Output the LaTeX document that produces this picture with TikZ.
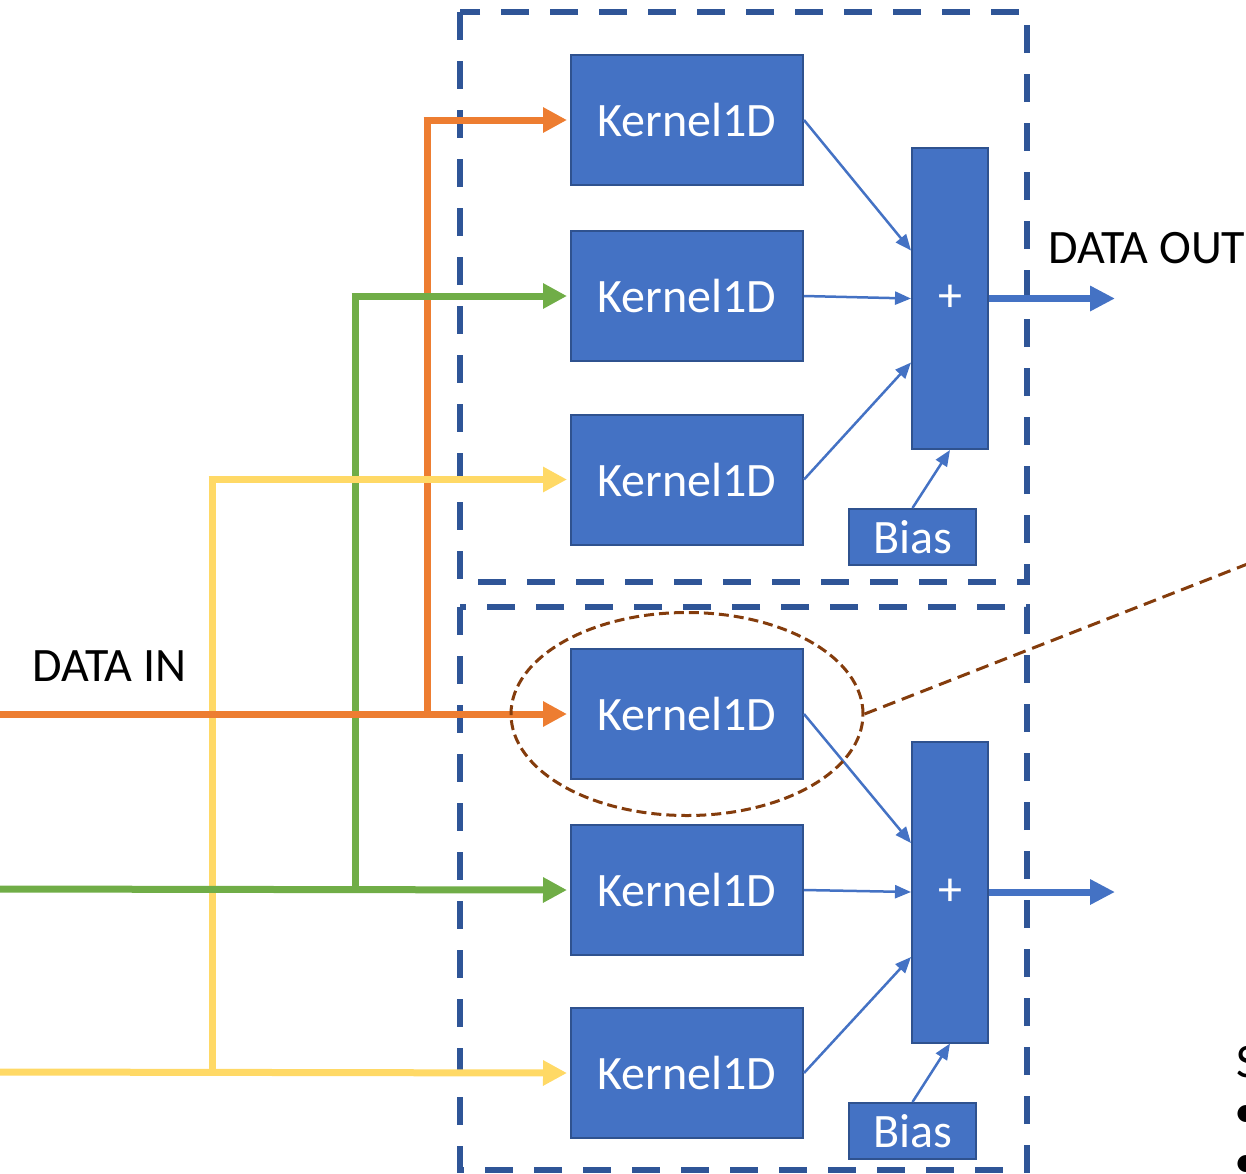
\documentclass[tikz,border=0pt]{standalone}
\usepackage{fontspec}
\setmainfont{Carlito}
\usetikzlibrary{arrows.meta,calc,shapes.geometric}
\definecolor{boxblue}{HTML}{4472C4}
\definecolor{boxedge}{HTML}{2F528F}
\definecolor{groupedge}{HTML}{2F5597}
\definecolor{lineorange}{HTML}{ED7D31}
\definecolor{linegreen}{HTML}{70AD47}
\definecolor{lineyellow}{HTML}{FFD966}
\definecolor{zoombrown}{HTML}{843C0C}
\tikzset{
  kernelbox/.style={draw=boxedge, line width=2pt, fill=boxblue, text=white,
    minimum width=232pt, minimum height=130pt, inner sep=0pt,
    font=\fontsize{48}{54}\selectfont},
  sumbox/.style={draw=boxedge, line width=2pt, fill=boxblue, text=white,
    minimum width=76pt, minimum height=301pt, inner sep=0pt,
    font=\fontsize{48}{54}\selectfont},
  biasbox/.style={draw=boxedge, line width=2pt, fill=boxblue, text=white,
    minimum width=127pt, minimum height=56pt, inner sep=0pt,
    font=\fontsize{48}{54}\selectfont},
  groupframe/.style={draw=groupedge, line width=6.5pt, dash pattern=on 28pt off 21pt},
  feed/.style={line width=7pt, line join=miter, -{Triangle[length=24pt,width=24pt]}},
  branch/.style={line width=7pt, line join=miter},
  thinarrow/.style={draw=boxblue, line width=2.5pt, -{Triangle[length=16pt,width=13pt]}},
  outarrow/.style={draw=boxblue, line width=7pt, -{Triangle[length=25pt,width=24pt]}},
  label/.style={font=\fontsize{48}{54}\selectfont, inner sep=0pt, anchor=base west},
}
\begin{document}
\begin{tikzpicture}[x=1pt, y=-1pt]
\useasboundingbox (0,0) rectangle (1246,1173);

% group frames
\draw[groupframe] (460,12) rectangle (1027,582);
\draw[groupframe] (460,607) rectangle (1027,1170);

% kernels, adders and biases
\node[kernelbox] (k1) at (687,120) {Kernel1D};
\node[kernelbox] (k2) at (687,296) {Kernel1D};
\node[kernelbox] (k3) at (687,479.5) {Kernel1D};
\node[kernelbox] (k4) at (687,714) {Kernel1D};
\node[kernelbox] (k5) at (687,890) {Kernel1D};
\node[kernelbox] (k6) at (687,1073) {Kernel1D};

\node[sumbox] (s1) at (950,298.5) {+};
\node[sumbox] (s2) at (950,892) {+};

\node[biasbox] (b1) at (912.5,537) {Bias};
\node[biasbox] (b2) at (912.5,1131) {Bias};

% input lines: free left ends and branch points
\coordinate (inO) at (0,714);
\coordinate (inG) at (0,889);
\coordinate (inY) at (0,1072);
\coordinate (jO) at (427,714);
\coordinate (jG) at (355,889);
\coordinate (jY) at (212,1072);

% yellow (lowest layer)
\draw[branch, lineyellow] (jY) -- (jY |- k3.west);
\draw[feed, lineyellow] (inY) -- ([xshift=-3pt]k6.west);
% orange vertical
\draw[branch, lineorange] (jO) -- (jO |- k1.west);
% green
\draw[branch, linegreen] (jG) -- (jG |- k2.west);
\draw[feed, linegreen] (inG) -- ([xshift=-3pt]k5.west);
\draw[feed, linegreen] ([xshift=-3.5pt]jG |- k2.west) -- ([xshift=-3pt]k2.west);
% yellow top branch over orange and green verticals
\draw[feed, lineyellow] ([xshift=-3.5pt]jY |- k3.west) -- ([xshift=-3pt]k3.west);
% orange on top
\draw[feed, lineorange] (inO) -- ([xshift=-3pt]k4.west);
\draw[feed, lineorange] ([xshift=-3.5pt]jO |- k1.west) -- ([xshift=-3pt]k1.west);

% kernel outputs into the adders
\draw[thinarrow] (k1.east) -- ([yshift=48pt]s1.west);
\draw[thinarrow] (k2.east) -- ([yshift=0pt]s1.west);
\draw[thinarrow] (k3.east) -- ([yshift=-64pt]s1.west);
\draw[thinarrow] (b1.north) -- (s1.south);
\draw[thinarrow] (k4.east) -- ([yshift=49pt]s2.west);
\draw[thinarrow] (k5.east) -- ([yshift=0pt]s2.west);
\draw[thinarrow] (k6.east) -- ([yshift=-65pt]s2.west);
\draw[thinarrow] (b2.north) -- (s2.south);

% adder outputs
\coordinate (o1) at (1115,298.5);
\coordinate (o2) at (1115,892);
\draw[outarrow] (s1.east) -- (o1);
\draw[outarrow] (s2.east) -- (o2);

% labels
\node[label] (dout) at (1048,263) {DATA OUT};
\node[label] (din) at (32,681) {DATA IN};

% highlighted kernel with call-out line
\node[draw=zoombrown, line width=3pt, dash pattern=on 10pt off 5pt,
      ellipse, minimum width=352pt, minimum height=203pt, inner sep=0pt] (hl) at (687,714) {};
\coordinate (callout) at (1250,563);
\draw[zoombrown, line width=3pt, dash pattern=on 13pt off 7pt] (hl.east) -- (callout);

% text continuing beyond the right edge
\node[label] (side) at (1236,1077) {S};
\node[label] (bul1) at (1234,1127) {•};
\node[label] (bul2) at (1234,1177) {•};
\end{tikzpicture}
\end{document}
